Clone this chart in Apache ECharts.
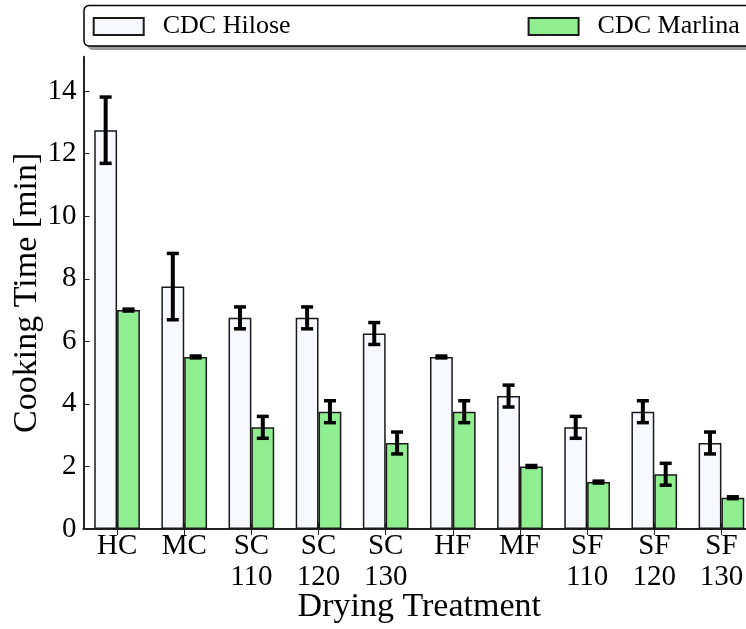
<!DOCTYPE html>
<html>
<head>
<meta charset="utf-8">
<title>Cooking Time by Drying Treatment</title>
<script src="https://cdn.jsdelivr.net/npm/echarts@6/dist/echarts.min.js"></script>
<style>
  html, body { margin: 0; padding: 0; background: #ffffff; }
  #chart { width: 746px; height: 629px; }
</style>
</head>
<body>
<div id="chart"></div>
<script>
// Drying treatments along the x axis
const categories = ['HC', 'MC', 'SC\n110', 'SC\n120', 'SC\n130', 'HF', 'MF', 'SF\n110', 'SF\n120', 'SF\n130'];

// Mean cooking time [min] and standard deviation per cultivar
const hiloseMean = [12.75, 7.75, 6.75, 6.75, 6.25, 5.5, 4.25, 3.25, 3.75, 2.75];
const hiloseErr  = [1.06, 1.06, 0.35, 0.35, 0.35, 0.03, 0.35, 0.35, 0.35, 0.35];
const marlinaMean = [7.0, 5.5, 3.25, 3.75, 2.75, 3.75, 2.0, 1.5, 1.75, 1.0];
const marlinaErr  = [0.03, 0.03, 0.35, 0.35, 0.35, 0.35, 0.03, 0.03, 0.35, 0.03];

// Y axis ticks
const yTicks = [0, 2, 4, 6, 8, 10, 12, 14];

const seriesNames = ['CDC Hilose', 'CDC Marlina'];

const FONT = 'Liberation Serif';
const FS_TICK = 29;
const FS_NAME = 34;
const FS_LEGEND = 26;
const BAR_FRAC = 0.34;          // bar width as a fraction of the category band
const INK = '#000';

function errorSeries(name, means, errs, side) {
  return {
    name: name + ' error',
    type: 'custom',
    z: 10,
    silent: true,
    encode: { x: 0, y: 1 },
    data: means.map((m, i) => [i, m, errs[i]]),
    renderItem: function (params, api) {
      const idx = api.value(0);
      const v = api.value(1);
      const e = api.value(2);
      const band = api.size([1, 0])[0];
      const cx = api.coord([idx, v])[0] + side * band * BAR_FRAC / 2;
      const yTop = api.coord([idx, v + e])[1];
      const yBot = api.coord([idx, v - e])[1];
      const capHalf = 6;
      const stem = { stroke: '#000', lineWidth: 4, fill: null };
      const cap = { stroke: '#000', lineWidth: 3.5, fill: null };
      return {
        type: 'group',
        children: [
          { type: 'line', shape: { x1: cx, y1: yTop, x2: cx, y2: yBot }, style: stem },
          { type: 'line', shape: { x1: cx - capHalf, y1: yTop, x2: cx + capHalf, y2: yTop }, style: cap },
          { type: 'line', shape: { x1: cx - capHalf, y1: yBot, x2: cx + capHalf, y2: yBot }, style: cap }
        ]
      };
    }
  };
}

const chart = echarts.init(document.getElementById('chart'), null, { renderer: 'canvas' });

const legendText = { fontFamily: FONT, fontSize: FS_LEGEND, color: INK, padding: [0, 0, 0, 14], lineHeight: 34 };

const option = {
  animation: false,
  backgroundColor: '#ffffff',
  textStyle: { fontFamily: FONT },
  graphic: [
    // legend frame with drop shadow
    { type: 'rect', z: -2, shape: { x: 87.5, y: 9.5, width: 700, height: 40.5, r: 5 }, style: { fill: '#9a9a9a' } },
    { type: 'rect', z: -1, shape: { x: 84, y: 5.5, width: 700, height: 40.5, r: 5 }, style: { fill: '#ffffff', stroke: '#000', lineWidth: 1.5 } }
  ],
  legend: [
    {
      data: [seriesNames[0]], left: 92.7, top: 9.5, padding: 0,
      itemWidth: 50, itemHeight: 17, icon: 'rect',
      textStyle: legendText, selectedMode: false
    },
    {
      data: [seriesNames[1]], left: 527.6, top: 9.5, padding: 0,
      itemWidth: 50, itemHeight: 17, icon: 'rect',
      textStyle: legendText, selectedMode: false
    }
  ],
  grid: { left: 83.5, top: 56.7, width: 671.5, bottom: 100, containLabel: false, outerBoundsMode: 'none' },
  xAxis: [
    {
      type: 'category',
      data: categories,
      position: 'bottom',
      boundaryGap: true,
      name: 'Drying Treatment',
      nameLocation: 'middle',
      nameGap: 61,
      nameMoveOverlap: false,
      nameTextStyle: { fontFamily: FONT, fontSize: FS_NAME, color: INK },
      axisLine: { show: true, lineStyle: { color: '#222', width: 2 } },
      axisTick: { show: true, inside: true, length: 6, alignWithLabel: true, lineStyle: { color: '#222', width: 1 } },
      axisLabel: { fontFamily: FONT, fontSize: FS_TICK, color: INK, lineHeight: 31, margin: 2, interval: 0 },
      splitLine: { show: false }
    },
    {
      type: 'category',
      data: categories,
      position: 'top',
      boundaryGap: true,
      axisLine: { show: true, lineStyle: { color: '#222', width: 2 } },
      axisTick: { show: true, inside: true, length: 6, alignWithLabel: true, lineStyle: { color: '#222', width: 1 } },
      axisLabel: { show: false },
      splitLine: { show: false }
    }
  ],
  yAxis: [
    {
      type: 'value',
      min: 0,
      max: 15.1,
      interval: 2,
      position: 'left',
      name: 'Cooking Time [min]',
      nameLocation: 'middle',
      nameGap: 39,
      nameMoveOverlap: false,
      nameTextStyle: { fontFamily: FONT, fontSize: FS_NAME, color: INK },
      axisLine: { show: true, lineStyle: { color: '#222', width: 2 } },
      axisTick: { show: true, inside: true, length: 6, lineStyle: { color: '#222', width: 1 } },
      axisLabel: {
        fontFamily: FONT, fontSize: FS_TICK, color: INK, margin: 7, showMaxLabel: false,
        formatter: v => (yTicks.includes(v) ? String(v) : '')
      },
      splitLine: { show: false }
    },
    {
      type: 'value',
      min: 0,
      max: 15.1,
      interval: 2,
      position: 'right',
      axisLine: { show: true, lineStyle: { color: '#222', width: 2 } },
      axisTick: { show: true, inside: true, length: 6 },
      axisLabel: { show: false },
      splitLine: { show: false }
    }
  ],
  series: [
    {
      name: seriesNames[0],
      type: 'bar',
      data: hiloseMean,
      barWidth: (BAR_FRAC * 100) + '%',
      barGap: '0%',
      itemStyle: { color: '#F8F8FF', borderColor: '#1a1a1a', borderWidth: 1.5 },
      z: 2
    },
    {
      name: seriesNames[1],
      type: 'bar',
      data: marlinaMean,
      barWidth: (BAR_FRAC * 100) + '%',
      barGap: '0%',
      itemStyle: { color: '#90EE90', borderColor: '#1a1a1a', borderWidth: 1.5 },
      z: 2
    },
    errorSeries(seriesNames[0], hiloseMean, hiloseErr, -1),
    errorSeries(seriesNames[1], marlinaMean, marlinaErr, 1)
  ]
};

chart.setOption(option);
</script>
</body>
</html>
